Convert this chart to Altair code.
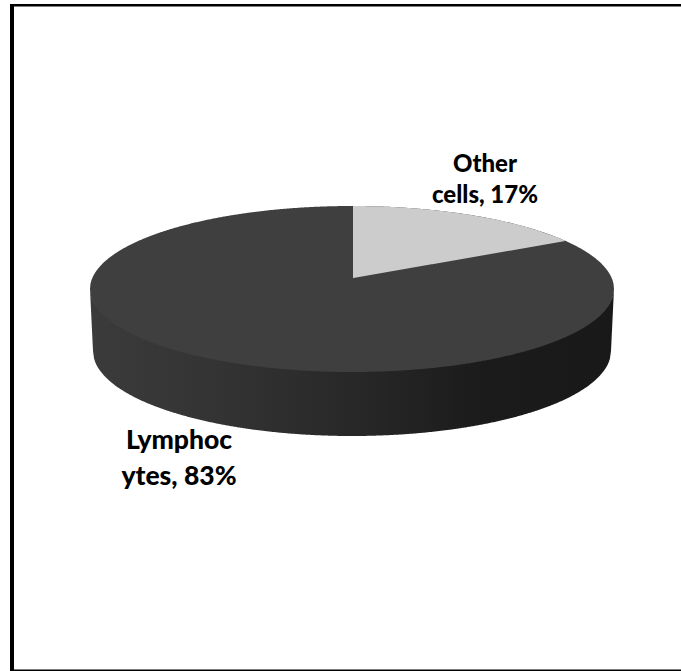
import altair as alt
import numpy as np
import pandas as pd

# Chart values
categories = ["Other cells", "Lymphocytes"]
shares = [17, 83]

# Label lines, wrapped the way the slices' labels wrap
label_lines = [["Other", "cells, 17%"], ["Lymphoc", "ytes, 83%"]]

# Pie geometry in canvas pixels: top face, perspective apex, wall depth
W, H = 681, 671
CX, CY, RX, RY = 352, 289, 262, 83
APEX_X, APEX_Y = 353, 278
BASE_RX, BASE_CY, BASE_RY = 259, 351, 85

x_scale = alt.Scale(domain=[0, W], range=[0, W], nice=False, zero=False)
y_scale = alt.Scale(domain=[0, H], range=[0, H], nice=False, zero=False)
X = lambda f, **k: alt.X(f, type="quantitative", scale=x_scale, axis=None, **k)
Y = lambda f, **k: alt.Y(f, type="quantitative", scale=y_scale, axis=None, **k)


def rim_top(x):
    return CY - RY * np.sqrt(np.clip(1 - ((x - CX) / RX) ** 2, 0, 1))


def rim_bottom(x):
    return CY + RY * np.sqrt(np.clip(1 - ((x - CX) / RX) ** 2, 0, 1))


def base_bottom(x):
    inner = BASE_CY + BASE_RY * np.sqrt(np.clip(1 - ((x - CX) / BASE_RX) ** 2, 0, 1))
    return np.where(np.abs(x - CX) <= BASE_RX, inner,
                    CY + (BASE_CY - CY) * (RX - np.abs(x - CX)) / (RX - BASE_RX))


def rim_point(share):
    """Where the slice boundary at a cumulative share meets the top rim."""
    t = 2 * np.pi * share / 100
    dx, dy = RX * np.sin(t), -RY * np.cos(t)
    ox, oy = APEX_X - CX, APEX_Y - CY
    a = (dx / RX) ** 2 + (dy / RY) ** 2
    b = 2 * (ox * dx / RX**2 + oy * dy / RY**2)
    c = (ox / RX) ** 2 + (oy / RY) ** 2 - 1
    s = (-b + np.sqrt(b * b - 4 * a * c)) / (2 * a)
    return APEX_X + s * dx, APEX_Y + s * dy


xs = np.concatenate([np.linspace(CX - RX, CX - BASE_RX, 8),
                     np.linspace(CX - BASE_RX, CX + BASE_RX, 500),
                     np.linspace(CX + BASE_RX, CX + RX, 8)])

wall_df = pd.DataFrame({"x": xs, "y": rim_bottom(xs) - 1, "y2": base_bottom(xs)})
top_df = pd.DataFrame({"x": xs, "y": rim_top(xs), "y2": rim_bottom(xs)})

end_x, end_y = rim_point(shares[0])
wx = np.linspace(APEX_X, end_x, 300)
slice_df = pd.DataFrame({
    "x": wx,
    "y": rim_top(wx),
    "y2": APEX_Y + (end_y - APEX_Y) * (wx - APEX_X) / (end_x - APEX_X),
})

wall_fill = alt.Gradient(
    gradient="linear", x1=0, x2=1, y1=0, y2=0,
    stops=[
        alt.GradientStop(offset=0.0, color="#3b3b3b"),
        alt.GradientStop(offset=0.25, color="#333333"),
        alt.GradientStop(offset=0.5, color="#282828"),
        alt.GradientStop(offset=0.75, color="#1b1b1b"),
        alt.GradientStop(offset=1.0, color="#191919"),
    ],
)

wall = alt.Chart(wall_df).mark_area(fill=wall_fill, opacity=1).encode(
    x=X("x"), y=Y("y"), y2="y2")
top = alt.Chart(top_df).mark_area(color="#3f3f3f", opacity=1).encode(
    x=X("x"), y=Y("y"), y2="y2")
slice_top = alt.Chart(slice_df).mark_area(color="#cccccc", opacity=1).encode(
    x=X("x"), y=Y("y"), y2="y2")


def label_layer(lines, x, ys, size):
    df = pd.DataFrame({"text": lines, "x": [x, x], "y": ys})
    return alt.Chart(df).mark_text(
        font="Lato", fontSize=size, fontWeight=900, color="#000000",
        align="center", baseline="alphabetic",
    ).encode(x=X("x"), y=Y("y"), text="text:N")


other_label = label_layer(label_lines[0], 485, [172, 203], 24)
lymph_label = label_layer(label_lines[1], 179, [449, 485], 26.5)

# Black frame: heavy left edge, lighter top and bottom edges
frame_df = pd.DataFrame({
    "x": [10, 10, 10], "x2": [14, W, W],
    "y": [4, 4, 669.5], "y2": [H, 6.5, H],
})
frame = alt.Chart(frame_df).mark_rect(color="#000000").encode(
    x=X("x"), x2="x2", y=Y("y"), y2="y2")

chart = (
    alt.layer(wall, top, slice_top, other_label, lymph_label, frame)
    .properties(width=W, height=H, padding=0, autosize=alt.AutoSizeParams(type="none"),
                background="#ffffff")
    .configure_view(stroke=None)
)

chart.save("out.html", embed_options={"renderer": "svg", "actions": False})
